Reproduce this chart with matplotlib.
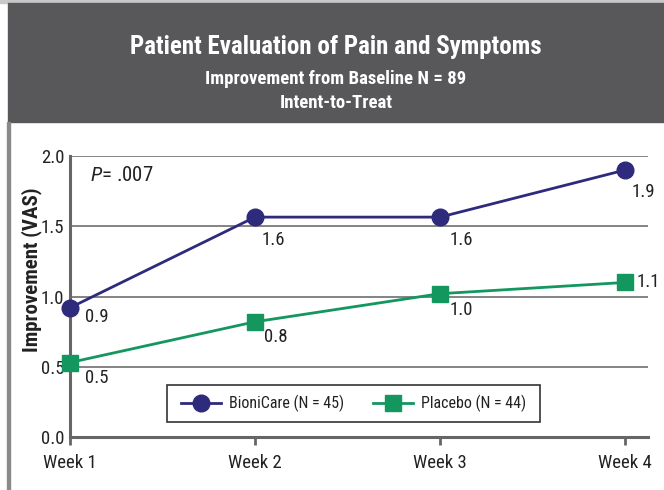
import matplotlib
matplotlib.use("Agg")
import matplotlib.pyplot as plt
from matplotlib.patches import Rectangle
from matplotlib import font_manager

weeks = ["Week 1", "Week 2", "Week 3", "Week 4"]
bionicare = [0.92, 1.565, 1.565, 1.90]
placebo = [0.53, 0.82, 1.02, 1.10]
bionicare_labels = ["0.9", "1.6", "1.6", "1.9"]
placebo_labels = ["0.5", "0.8", "1.0", "1.1"]
yticks = [0.0, 0.5, 1.0, 1.5, 2.0]

names = {f.name for f in font_manager.fontManager.ttflist}
prefs = ["Roboto Condensed", "Archivo Narrow", "PT Sans Narrow", "Liberation Sans Narrow",
         "Open Sans Condensed", "Fira Sans Condensed", "IBM Plex Sans Condensed",
         "Encode Sans Condensed", "Barlow Condensed", "Asap Condensed", "DejaVu Sans"]
fam = next(p for p in prefs if p in names)
plt.rcParams["font.family"] = [fam, "DejaVu Sans"]
plt.rcParams["mathtext.fontset"] = "custom"
plt.rcParams["mathtext.it"] = fam + ":italic"
plt.rcParams["mathtext.rm"] = fam

navy = "#2e2a7c"
green = "#14965f"
gridc = "#7a7a7a"
txtc = "#222222"

fig = plt.figure(figsize=(6.64, 4.9), dpi=100)
W, H = 664, 490
fig.patches.append(Rectangle((0, 1 - 3 / H), 1, 3 / H, transform=fig.transFigure,
                             color="#c8c8c8", zorder=0))
fig.patches.append(Rectangle((8 / W, 1 - 122 / H), 1, 119 / H, transform=fig.transFigure,
                             color="#58585a", zorder=0))
fig.patches.append(Rectangle((7 / W, 0), 3 / W, 1 - 122 / H, transform=fig.transFigure,
                             color="#8a8a8a", zorder=0))

fig.text(336 / W, 1 - 47 / H, "Patient Evaluation of Pain and Symptoms", color="white",
         fontsize=18, fontweight="bold", ha="center", va="center")
fig.text(336 / W, 1 - 79 / H, "Improvement from Baseline N = 89", color="white",
         fontsize=13.5, fontweight="bold", ha="center", va="center")
fig.text(336 / W, 1 - 103 / H, "Intent-to-Treat", color="white",
         fontsize=13.5, fontweight="bold", ha="center", va="center")

ax = fig.add_axes([70 / W, 1 - 437 / H, 578 / W, 281 / H])
x = list(range(len(weeks)))
ax.set_xlim(0, 3 * 578 / 555)
ax.set_ylim(0, 2.0)
for yv in yticks[1:]:
    ax.axhline(yv, color=gridc, lw=1.3, zorder=1)
for s in ["top", "right"]:
    ax.spines[s].set_visible(False)
for s in ["left", "bottom"]:
    ax.spines[s].set_color("#666666")
    ax.spines[s].set_linewidth(2.2)
ax.set_xticks(x)
ax.set_xticklabels(weeks, fontsize=13.5, color=txtc)
ax.set_yticks(yticks)
ax.set_yticklabels([f"{v:.1f}" for v in yticks], fontsize=13.5, color=txtc)
ax.tick_params(axis="y", length=0, pad=4)
ax.tick_params(axis="x", length=6, width=2, color="#666666", pad=6)
fig.text(32 / W, 1 - 270 / H, "Improvement (VAS)", fontsize=15, fontweight="bold",
         rotation=90, ha="center", va="center", color=txtc)

ax.plot(x, bionicare, color=navy, lw=2, marker="o", ms=12, clip_on=False, zorder=4,
        label="BioniCare (N = 45)")
ax.plot(x, placebo, color=green, lw=2, marker="s", ms=11, clip_on=False, zorder=4,
        label="Placebo (N = 44)")

b_off = [(10.5, -6.5), (5, -16.5), (7, -16.5), (5, -16)]
p_off = [(10.5, -11), (6.5, -11), (7, -11.5), (8.5, 0)]
for i in x:
    ax.annotate(bionicare_labels[i], (x[i], bionicare[i]), xytext=b_off[i],
                textcoords="offset points", fontsize=13.5, ha="left", va="center", color=txtc)
    ax.annotate(placebo_labels[i], (x[i], placebo[i]), xytext=p_off[i],
                textcoords="offset points", fontsize=13.5, ha="left", va="center", color=txtc)

ax.text(20 / 578, 1 - 19 / 281, "$\\mathit{P}$= .007", transform=ax.transAxes,
        fontsize=15, ha="left", va="center", color=txtc)

# legend box drawn as a rectangle (pixel extents of reference)
ax.add_patch(Rectangle(((167 - 70) / 578, (437 - 422) / 281), (540 - 167) / 578, 37 / 281,
                       transform=ax.transAxes, fill=True, facecolor="white",
                       edgecolor="#333333", lw=1.2, zorder=5))
leg = ax.legend(loc="center", bbox_to_anchor=((353.5 - 70) / 578, (437 - 403.5) / 281),
                ncol=2, frameon=False, fontsize=11.5, handlelength=2.5,
                columnspacing=1.8, handletextpad=0.5, borderpad=0.3)
leg.set_zorder(6)
for t in leg.get_texts():
    t.set_color(txtc)

fig.savefig("out.png", dpi=100)
